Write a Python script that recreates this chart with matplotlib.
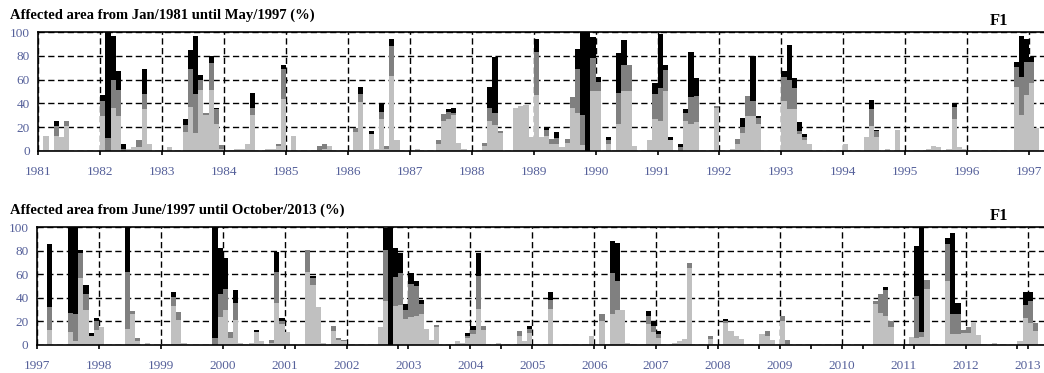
import numpy as np
import matplotlib
matplotlib.use('Agg')
import matplotlib.pyplot as plt

plt.rcParams['font.family'] = ['Liberation Serif', 'DejaVu Serif']

# month index 0 = Jan/1981 (top), 0 = Jun/1997 (bottom)
# values in %: light gray / dark gray / black parts of each bar
top_idx = [1, 3, 4, 5, 12, 13, 14, 15, 16, 17, 18, 19, 20, 21, 25, 28, 29, 30, 31, 32,
           33, 34, 35, 37, 38, 39, 40, 41, 44, 45, 46, 47, 49, 54, 55, 56, 61, 62, 63, 64,
           65, 66, 67, 68, 69, 73, 77, 78, 79, 80, 81, 82, 86, 87, 88, 89, 92, 93, 94, 95,
           96, 97, 98, 99, 100, 101, 102, 103, 104, 105, 106, 107, 108, 110, 112, 113, 114, 115, 118, 119,
           120, 121, 122, 124, 125, 126, 127, 131, 134, 135, 136, 137, 138, 139, 144, 145, 146, 147, 148, 149,
           156, 160, 161, 162, 164, 166, 172, 173, 174, 176, 177, 178, 179, 189, 190, 191, 192, 193]
top_light = [13, 13, 12, 21, 29, 0, 36, 29, 0, 2, 3, 3, 35, 6, 3, 16, 37, 15, 51, 30,
             51, 23, 2, 1, 2, 2, 6, 30, 2, 2, 4, 44, 13, 1, 2, 4.5, 16, 41, 1, 14,
             2, 27, 2, 63, 9, 1.5, 6, 25, 27, 30, 7, 2, 4, 25, 22, 15, 36, 38, 39, 12,
             47, 12, 13, 6, 6, 3, 7, 36, 32, 5, 0, 50, 50, 6, 23, 50, 50, 4, 9, 27,
             25, 50, 9, 0, 25, 23, 24, 36, 2, 6, 15, 29, 29, 23, 42, 35, 35, 14, 9, 6,
             6, 12, 21, 12, 2, 18, 2, 4, 3, 2, 27, 3, 2, 54, 30, 47, 57, 19]
top_dark = [0, 8, 0, 4, 13, 11, 24, 22, 2, 0, 0, 6, 13, 0, 0, 6, 32, 33, 9, 2,
            23, 12, 3, 0, 0, 0, 0, 6, 0, 0, 2, 25, 0, 3, 3.5, 0, 3, 7, 0, 0,
            0, 6, 2, 25, 0, 0, 3, 6, 6, 2, 0, 0, 3, 11, 10, 2, 0, 0, 0, 0,
            36, 0, 5, 4, 5, 0, 3, 9, 37, 25, 0, 28, 8, 3, 26, 22, 22, 0, 0, 21,
            28, 18, 0, 3, 7, 22, 22, 2, 0, 4, 5, 17, 13, 5, 20, 25, 18, 3, 3, 0,
            0, 0, 14, 5, 0, 0, 0, 0, 0, 0, 10, 0, 0, 17, 32, 28, 18, 0]
top_black = [0, 4, 0, 0, 5, 89, 37, 16, 4, 0, 0, 0, 21, 0, 0, 5, 16, 49, 4, 0,
             6, 1, 0, 0, 0, 0, 0, 13, 0, 0, 0, 3, 0, 0, 0, 0, 0, 6, 0, 3,
             0, 7, 0, 6, 0, 0, 0, 0, 2, 4, 0, 0, 0, 18, 47, 0, 0, 0, 0, 0,
             11, 0, 2, 0, 5, 0, 0, 0, 17, 70, 100, 18, 4, 3, 33, 21, 0, 0, 0, 9,
             45, 4, 3, 3, 3, 38, 15, 0, 0, 0, 8, 0, 38, 1, 5, 29, 8, 7, 2, 0,
             0, 0, 8, 1, 0, 0, 0, 0, 0, 0, 3, 0, 0, 4, 35, 19, 4, 0]

bot_idx = [2, 6, 7, 8, 9, 10, 11, 12, 17, 18, 19, 21, 24, 26, 27, 28, 34, 35, 36, 37,
           38, 39, 41, 42, 43, 45, 46, 47, 48, 52, 53, 54, 55, 57, 58, 59, 66, 67, 68, 69,
           70, 71, 72, 73, 74, 75, 76, 77, 81, 82, 83, 84, 85, 86, 89, 93, 94, 95, 99, 107,
           109, 110, 111, 112, 113, 114, 118, 119, 120, 123, 124, 125, 126, 130, 131, 133, 134, 135, 136, 140,
           141, 142, 144, 145, 162, 163, 164, 165, 169, 170, 171, 172, 176, 177, 178, 179, 180, 181, 182, 185,
           190, 191, 192, 193]
bot_light = [13, 11, 3, 57, 30, 8, 13, 15, 14, 26, 3, 2, 1, 33, 21, 2, 0, 24, 30, 6,
             21, 1.5, 2, 11, 3, 2, 36, 18, 11, 62, 51, 32, 2, 12, 4, 3, 15, 37, 0, 33,
             34, 22, 24, 25, 26, 14, 4, 15, 3, 2, 6, 9, 31, 13, 2, 8, 3, 10, 31, 8,
             20, 1, 26, 30, 30, 2, 18, 11, 6, 2, 3, 5, 65, 5, 1, 19, 12, 8, 5, 9,
             8, 4, 20, 1, 35, 27, 25, 15, 7, 6, 7, 48, 54, 9, 9, 10, 10, 19.5, 8.5, 2,
             3, 23, 19, 12]
bot_dark = [19, 16, 23, 21, 13, 0, 7, 0, 48, 3, 3, 0, 0, 8, 7, 0, 6, 19, 18, 5,
            15, 0, 0, 0, 0, 2, 26, 2, 0, 19, 6, 0, 0, 4, 2, 1, 0, 44, 0, 25,
            27, 8, 28, 25, 9, 0, 0, 2, 0, 0, 2, 4, 28, 3, 0, 4, 0, 4, 7, 0,
            6, 0, 35, 24, 0, 0, 7, 5, 3, 0, 0, 0, 5, 3, 0, 1, 0, 0, 0, 0,
            4, 0, 5, 3, 2, 16, 22, 5, 0, 36, 4, 7, 32, 17, 17, 2.5, 5, 0, 0, 0,
            0, 11, 18, 7]
bot_black = [54, 73, 74, 3, 8, 2, 3, 0, 38, 0, 0, 0, 0, 4, 0, 0, 94, 39, 26, 0,
             11, 0, 0, 2, 0, 0, 17, 3, 0, 0, 2, 0, 0, 0, 0, 0, 0, 18, 100, 24,
             17, 5, 9, 4, 3, 0, 0, 0, 0, 0, 2, 3, 19, 0, 0, 0, 0, 2, 7, 0,
             0, 0, 27, 33, 0, 0, 4, 4, 3, 0, 0, 0, 0, 0, 0, 2, 0, 0, 0, 0,
             0, 0, 0, 0, 0, 0, 2, 0, 0, 42, 89, 0, 5, 69, 10, 0, 0, 0, 0, 0,
             0, 11, 8, 0]

top_years = list(range(1981, 1998))
bot_years = list(range(1997, 2014))
bot_minor = [50, 70, 80, 90, 110, 130, 140, 150, 160, 170, 180, 190]

label_color = '#55609a'
dash = (0, (4.5, 2.5))


def draw_panel(ax, idx, light, dark, black, years, minor):
    x = np.array(idx)
    l = np.array(light, dtype=float)
    d = np.array(dark, dtype=float)
    b = np.array(black, dtype=float)
    ax.bar(x, l, width=1, align='edge', color='#c0c0c0', lw=0, zorder=2)
    ax.bar(x, d, bottom=l, width=1, align='edge', color='#808080', lw=0, zorder=2)
    ax.bar(x, b, bottom=l + d, width=1, align='edge', color='black', lw=0, zorder=2)
    ax.set_xlim(0, 197)
    ax.set_ylim(0, 100)
    ax.set_xticks(np.arange(len(years)) * 12)
    ax.set_xticklabels([str(y) for y in years])
    if minor:
        ax.set_xticks(minor, minor=True)
    ax.set_yticks([0, 20, 40, 60, 80, 100])
    ax.grid(True, which='major', color='black', lw=1.0, linestyle=dash, zorder=1)
    ax.set_axisbelow(True)
    ax.spines['right'].set_visible(False)
    for s in ['left', 'bottom', 'top']:
        ax.spines[s].set_linewidth(1.2)
        ax.spines[s].set_zorder(3)
    ax.tick_params(axis='x', which='both', direction='out', length=3, width=1.2,
                   pad=8, labelsize=9.5, labelcolor=label_color)
    ax.tick_params(axis='y', length=0, pad=6, labelsize=9.5, labelcolor=label_color)


fig = plt.figure(figsize=(10.44, 3.73), dpi=100)
ax1 = fig.add_axes([0.0367, 0.5952, 0.9737, 0.319])
ax2 = fig.add_axes([0.0354, 0.0751, 0.9737, 0.3155])

draw_panel(ax1, top_idx, top_light, top_dark, top_black, top_years, None)
draw_panel(ax2, bot_idx, bot_light, bot_dark, bot_black, bot_years, bot_minor)

fig.text(10 / 1044, 1 - 15 / 373, 'Affected area from Jan/1981 until May/1997 (%)',
         fontsize=10.5, fontweight='bold', va='center', ha='left')
fig.text(10 / 1044, 1 - 210 / 373, 'Affected area from June/1997 until October/2013 (%)',
         fontsize=10.5, fontweight='bold', va='center', ha='left')
fig.text(999 / 1044, 1 - 21 / 373, 'F1', fontsize=12, fontweight='bold', va='center', ha='center')
fig.text(999 / 1044, 1 - 216 / 373, 'F1', fontsize=12, fontweight='bold', va='center', ha='center')

fig.savefig('out.png', dpi=100)
